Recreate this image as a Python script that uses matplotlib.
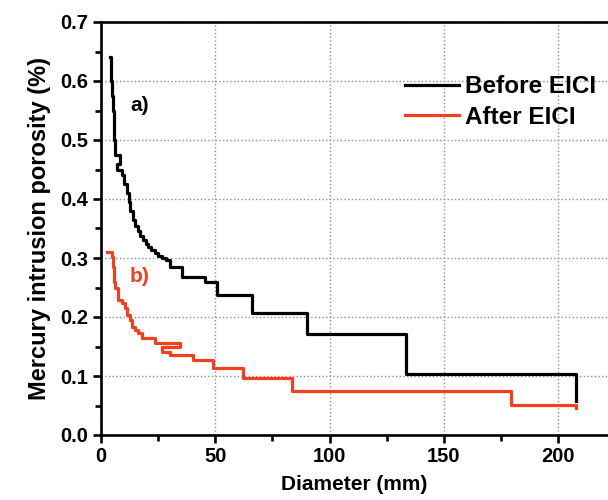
import matplotlib
matplotlib.use("Agg")
import matplotlib.pyplot as plt
from matplotlib.ticker import MultipleLocator

plt.rcParams['font.family'] = ['Liberation Sans', 'DejaVu Sans']
plt.rcParams['font.weight'] = 'bold'

# Mercury intrusion porosity vs pore diameter
before_x = [3.9, 4.3, 4.6, 4.9, 5.2, 5.5, 5.8, 6.2, 8.3, 7.0, 9.2, 10.2, 11.3,
            12.2, 12.9, 14.0, 14.9, 16.2, 17.3, 18.4, 19.5, 20.6, 22.0, 23.6,
            25.0, 26.7, 28.3, 30.2, 35.4, 45.4, 50.7, 66.0, 90.0, 133.6, 208.0,
            208.0]
before_y = [0.64, 0.62, 0.60, 0.575, 0.55, 0.525, 0.50, 0.475, 0.46, 0.45, 0.44,
            0.425, 0.41, 0.395, 0.38, 0.365, 0.355, 0.345, 0.337, 0.33, 0.324,
            0.318, 0.313, 0.308, 0.304, 0.30, 0.297, 0.285, 0.268, 0.259, 0.237,
            0.207, 0.171, 0.103, 0.103, 0.058]

after_x = [2.6, 4.8, 5.2, 5.5, 5.8, 6.1, 7.4, 9.2, 10.5, 11.4, 12.7, 13.5, 14.9,
           16.2, 17.9, 23.6, 34.6, 26.7, 30.2, 40.2, 49.0, 62.1, 83.5, 179.5,
           208.0]
after_y = [0.31, 0.302, 0.285, 0.27, 0.26, 0.25, 0.229, 0.224, 0.215, 0.203,
           0.195, 0.183, 0.178, 0.173, 0.164, 0.156, 0.149, 0.141, 0.136, 0.127,
           0.113, 0.097, 0.075, 0.051, 0.046]

labels = ['Before EICI', 'After EICI']
colors = ['#000000', '#f0401e']

fig = plt.figure(figsize=(6.08, 5.0), dpi=100)
ax = fig.add_axes([0.166, 0.13, 0.834, 0.826])

ax.plot(before_x, before_y, drawstyle='steps-post', color=colors[0], lw=2.3, label=labels[0])
ax.plot(after_x, after_y, drawstyle='steps-post', color=colors[1], lw=2.3, label=labels[1])

ax.set_xlim(0, 221.8)
ax.set_ylim(0, 0.7)
ax.xaxis.set_major_locator(MultipleLocator(50))
ax.xaxis.set_minor_locator(MultipleLocator(25))
ax.yaxis.set_major_locator(MultipleLocator(0.1))
ax.yaxis.set_minor_locator(MultipleLocator(0.05))
ax.yaxis.set_major_formatter(plt.FuncFormatter(lambda v, p: f'{v:.1f}'))

ax.grid(True, which='major', linestyle=':', color='#7f93a8', lw=1.0)
ax.set_axisbelow(True)

for side in ['left', 'bottom', 'top']:
    ax.spines[side].set_linewidth(1.9)
ax.spines['right'].set_visible(False)
ax.tick_params(which='major', direction='out', length=6, width=1.9, labelsize=14.5, pad=3)
ax.tick_params(which='minor', direction='out', length=4, width=1.9)

ax.set_xlabel('Diameter (mm)', fontsize=15, fontweight='bold', labelpad=6)
ax.set_ylabel('Mercury intrusion porosity (%)', fontsize=17, fontweight='bold', labelpad=7)

ax.text(12.7, 0.559, 'a)', color=colors[0], fontsize=15, fontweight='bold', va='center')
ax.text(12.7, 0.268, 'b)', color=colors[1], fontsize=15, fontweight='bold', va='center')

leg = ax.legend(loc='upper right', bbox_to_anchor=(1.0, 0.9), frameon=False,
                prop={'size': 17.5, 'weight': 'bold'}, handlelength=2.2,
                handletextpad=0.25, labelspacing=0.3, borderaxespad=0.1)

fig.savefig('out.png', dpi=100)
